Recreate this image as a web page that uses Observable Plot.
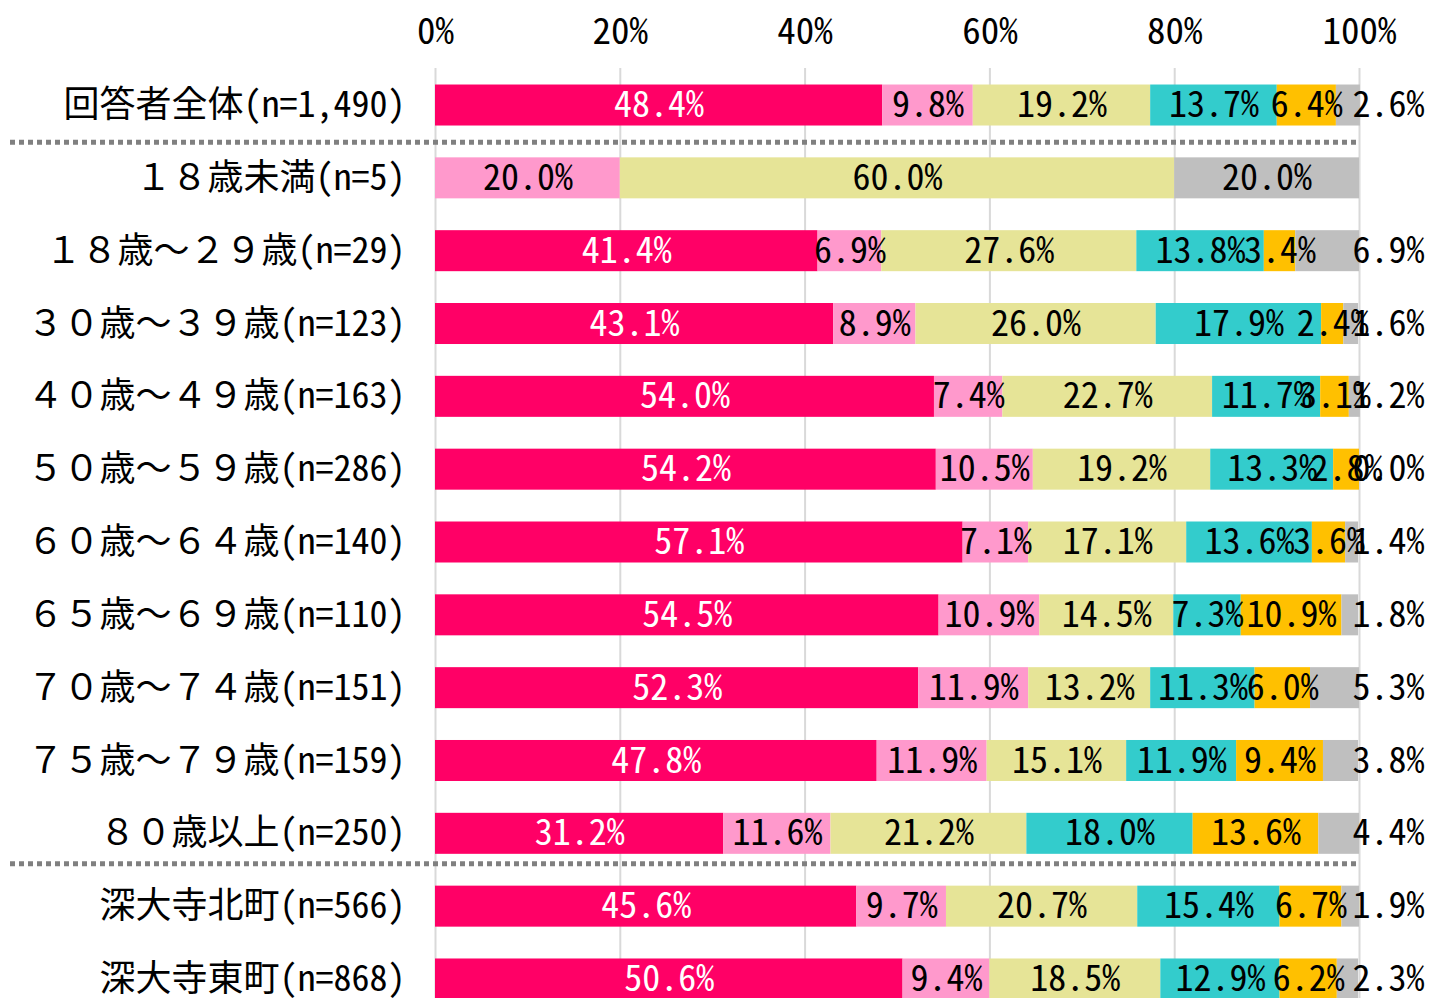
<!DOCTYPE html>
<html><head><meta charset="utf-8">
<script src="https://cdn.jsdelivr.net/npm/d3@7"></script>
<script src="https://cdn.jsdelivr.net/npm/@observablehq/plot@0.6"></script>
<style>
html,body{margin:0;padding:0;background:#fff;overflow:hidden;width:1431px;height:998px;}
#wrap{position:relative;width:1431px;height:998px;overflow:hidden;}
#legend{position:absolute;left:0;top:-23px;width:1431px;height:30px;font-family:"Noto Sans Mono CJK JP","Noto Sans CJK JP",sans-serif;font-size:29px;color:#000;}
#legend span{position:absolute;top:0;line-height:29px;white-space:nowrap;}
#chart{position:absolute;left:0;top:0;}
</style></head><body>
<div id="wrap"><div id="legend"></div><div id="chart"></div></div>
<script>
// ---- data ----
const rowLabels = [
  "回答者全体(n=1,490)",
  "１８歳未満(n=5)",
  "１８歳～２９歳(n=29)",
  "３０歳～３９歳(n=123)",
  "４０歳～４９歳(n=163)",
  "５０歳～５９歳(n=286)",
  "６０歳～６４歳(n=140)",
  "６５歳～６９歳(n=110)",
  "７０歳～７４歳(n=151)",
  "７５歳～７９歳(n=159)",
  "８０歳以上(n=250)",
  "深大寺北町(n=566)",
  "深大寺東町(n=868)"
];
const seriesKeys = ["回答1", "回答2", "回答3", "回答4", "その他", "無回答"];
const seriesColors = ["#FF0066", "#FF99CC", "#E6E497", "#33CCCC", "#FFC000", "#BFBFBF"];
const s1 = [48.4, null, 41.4, 43.1, 54.0, 54.2, 57.1, 54.5, 52.3, 47.8, 31.2, 45.6, 50.6];
const s2 = [9.8, 20.0, 6.9, 8.9, 7.4, 10.5, 7.1, 10.9, 11.9, 11.9, 11.6, 9.7, 9.4];
const s3 = [19.2, 60.0, 27.6, 26.0, 22.7, 19.2, 17.1, 14.5, 13.2, 15.1, 21.2, 20.7, 18.5];
const s4 = [13.7, null, 13.8, 17.9, 11.7, 13.3, 13.6, 7.3, 11.3, 11.9, 18.0, 15.4, 12.9];
const s5 = [6.4, null, 3.4, 2.4, 3.1, 2.8, 3.6, 10.9, 6.0, 9.4, 13.6, 6.7, 6.2];
const s6 = [2.6, 20.0, 6.9, 1.6, 1.2, 0.0, 1.4, 1.8, 5.3, 3.8, 4.4, 1.9, 2.3];
const xTicks = [0, 20, 40, 60, 80, 100];
const separatorsAfter = ["回答者全体(n=1,490)", "８０歳以上(n=250)"];
const legendShown = ["その他", "無回答"];

// ---- build table ----
const seriesValues = [s1, s2, s3, s4, s5, s6];
const data = [];
rowLabels.forEach((row, i) => {
  seriesKeys.forEach((key, j) => {
    data.push({row, series: key, si: j, value: seriesValues[j][i]});
  });
});
const fmt = v => v.toFixed(1) + "%";
const isLast = d => d.si === seriesKeys.length - 1;
const outside = d => isLast(d) && d.value != null && d.value < 10;
const lastData = data.filter(outside);

const FONT = '"Noto Sans Mono CJK JP","Noto Sans CJK JP",sans-serif';
const rowAfter = r => rowLabels[rowLabels.indexOf(r) + 1];

const chart = Plot.plot({
  width: 1431,
  height: 998,
  marginLeft: 435,
  marginRight: 72,
  marginTop: 68,
  marginBottom: 0,
  style: {fontFamily: FONT, fontSize: "36px", background: "white", color: "black"},
  x: {domain: [0, 100], axis: null},
  y: {domain: rowLabels, range: [48.1, 1035.9], paddingInner: 0.437, paddingOuter: 0.5, round: false, axis: null},
  color: {domain: seriesKeys, range: seriesColors},
  marks: [
    Plot.gridX(xTicks, {stroke: "#D9D9D9", strokeOpacity: 1, strokeWidth: 2}),
    Plot.axisX(xTicks, {anchor: "top", label: null, tickSize: 0, tickPadding: 25, tickFormat: d => d + "%", fontSize: 37, fontFamily: FONT}),
    Plot.axisY({tickSize: 0, tickPadding: 30, fontSize: 36, fontFamily: FONT, label: null}),
    Plot.barX(data, {x: "value", y: "row", fill: "series", z: "series"}),
    Plot.ruleY([separatorsAfter[0]], {y: d => rowAfter(d), dy: -36, insetLeft: -425, stroke: "#808080", strokeWidth: 5, strokeDasharray: "5,4"}),
    Plot.ruleY([separatorsAfter[1]], {y: d => rowAfter(d), dy: -43, insetLeft: -425, stroke: "#808080", strokeWidth: 5, strokeDasharray: "5,4"}),
    Plot.text(data, Plot.stackX({x: "value", y: "row", z: "series",
      text: d => (d.si === 0 && d.value != null) ? fmt(d.value) : "",
      fill: "white", fontSize: 36, fontFamily: FONT})),
    Plot.text(data, Plot.stackX({x: "value", y: "row", z: "series",
      text: d => (d.si !== 0 && d.value != null && !outside(d)) ? fmt(d.value) : "",
      fill: "black", fontSize: 36, fontFamily: FONT})),
    Plot.text(lastData, {y: "row", frameAnchor: "right", dx: 29, text: d => fmt(d.value),
      textAnchor: "middle", fill: "black", fontSize: 36, fontFamily: FONT})
  ]
});
document.getElementById("chart").appendChild(chart);

// partially visible legend row at the very top
const legendLeft = {"その他": 80, "無回答": 805};
const leg = document.getElementById("legend");
legendShown.forEach(k => {
  const s = document.createElement("span");
  s.textContent = k;
  s.style.left = legendLeft[k] + "px";
  leg.appendChild(s);
});
</script>
</body></html>
